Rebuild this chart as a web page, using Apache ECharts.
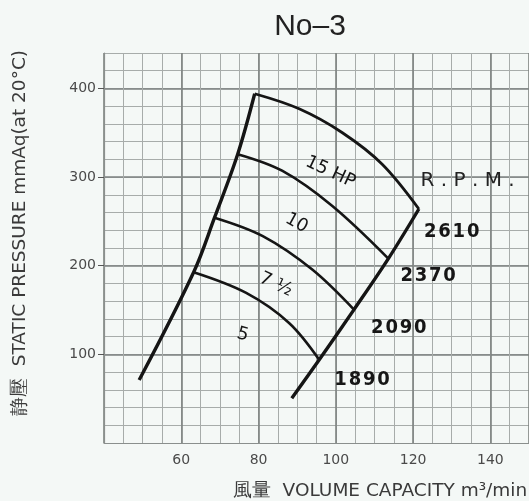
<!DOCTYPE html>
<html>
<head>
<meta charset="utf-8">
<script src="https://cdn.jsdelivr.net/npm/echarts@6/dist/echarts.min.js"></script>
<style>
html,body{margin:0;padding:0;background:#f4f8f6;}
#chart{width:529px;height:501px;}
</style>
</head>
<body>
<div id="chart"></div>
<script>
// ---- data ----
const xTicks = [60, 80, 100, 120, 140];
const yTicks = [100, 200, 300, 400];

// constant-RPM curves (volume m3/min, static pressure mmAq)
const rpm2610X = [79, 90.5, 101.7, 112, 121.5];
const rpm2610Y = [394, 377, 350, 314.5, 264];
const rpm2370X = [74.6, 86.2, 99.1, 113.6];
const rpm2370Y = [325.8, 306.9, 267.3, 208];
const rpm2090X = [68.6, 81.1, 93.9, 104.7];
const rpm2090Y = [254.2, 233.4, 195.7, 150.5];
const rpm1890X = [63.2, 76.8, 87.9, 95.7];
const rpm1890Y = [192.6, 169.3, 135.4, 93.9];

// boundary lines
const leftLineX = [49.1, 63.2, 68.6, 74.6, 79];
const leftLineY = [71, 192.6, 254.2, 325.8, 394];
const rightLineX = [88.6, 95.7, 104.7, 113.6, 121.5];
const rightLineY = [50.5, 93.9, 150.5, 208, 264];

// annotations
const hpLabels = ['15 HP', '10', '7 \u00BD', '5'];
const hpLabelX = [98.6, 89.8, 84.5, 75.9];
const hpLabelY = [305.5, 248, 178.7, 122.2];
const rpmLabels = ['2610', '2370', '2090', '1890'];
const rpmLabelX = [130, 123.9, 116.3, 106.8];
const rpmLabelY = [237.9, 188.1, 130.1, 71.3];
const rpmTitle = 'R . P . M .';
const rpmTitleX = 134.1;
const rpmTitleY = 295.6;

const titleText = 'No\u20133';
const xName = '風量  VOLUME CAPACITY m\u00B3/min';
const yName = '静壓  STATIC PRESSURE mmAq(at 20\u00B0C)';

// ---- build ----
const zip = (xs, ys) => xs.map((x, i) => [x, ys[i]]);
const ink = '#151515';
const hpRot = [-25, -29, -25, -15];

function curve(xs, ys, w) {
  return {
    type: 'line', xAxisIndex: 1, yAxisIndex: 1,
    data: zip(xs, ys), smooth: 0.35, symbol: 'none', silent: true,
    lineStyle: { color: ink, width: w }
  };
}

const baseLabel = { textBorderWidth: 0, textShadowBlur: 0, opacity: 1, color: '#161616' };
const labelData = [];
hpLabels.forEach((t, i) => labelData.push({
  value: [hpLabelX[i], hpLabelY[i]],
  label: Object.assign({}, baseLabel, { formatter: t, rotate: hpRot[i], fontSize: 18, fontFamily: 'DejaVu Sans' })
}));
rpmLabels.forEach((t, i) => labelData.push({
  value: [rpmLabelX[i], rpmLabelY[i]],
  label: Object.assign({}, baseLabel, { formatter: t.split('').join('\u200A'), fontSize: 20, fontWeight: 'bold', fontFamily: 'DejaVu Sans Condensed' })
}));
labelData.push({
  value: [rpmTitleX, rpmTitleY],
  label: Object.assign({}, baseLabel, { formatter: rpmTitle, fontSize: 20, fontFamily: 'DejaVu Sans', color: '#222' })
});

const minorLine = { show: true, lineStyle: { color: '#a7acaa', width: 1 } };
const majorLine = { show: true, lineStyle: { color: '#7d8280', width: 1.6 } };

const chart = echarts.init(document.getElementById('chart'), null, { renderer: 'canvas' });
chart.setOption({
  backgroundColor: '#f4f8f6',
  animation: false,
  grid: { left: 104, right: -2, top: 53, bottom: 58, containLabel: false },
  xAxis: [
    { type: 'value', min: 40, max: 150, interval: 5, position: 'bottom',
      axisLine: { show: false }, axisTick: { show: false }, axisLabel: { show: false },
      splitLine: minorLine },
    { type: 'value', min: 40, max: 150, interval: 20, position: 'bottom',
      axisLine: { show: true, lineStyle: { color: '#8a8f8d', width: 1.2 } },
      axisTick: { show: false },
      axisLabel: { show: true, customValues: xTicks, margin: 10, fontSize: 14, fontFamily: 'DejaVu Sans', color: '#4a4a4a' },
      splitLine: majorLine }
  ],
  yAxis: [
    { type: 'value', min: 0, max: 440, interval: 20, position: 'left',
      axisLine: { show: false }, axisTick: { show: false }, axisLabel: { show: false },
      splitLine: minorLine },
    { type: 'value', min: 0, max: 440, interval: 100, position: 'left',
      axisLine: { show: true, lineStyle: { color: '#8a8f8d', width: 1.2 } },
      axisTick: { show: true, customValues: yTicks, length: 6, inside: false, lineStyle: { color: '#555' } },
      axisLabel: { show: true, customValues: yTicks, margin: 8, fontSize: 14, fontFamily: 'DejaVu Sans', color: '#4a4a4a' },
      splitLine: majorLine }
  ],
  series: [
    curve(leftLineX, leftLineY, 3.4),
    curve(rightLineX, rightLineY, 3.4),
    curve(rpm2610X, rpm2610Y, 2.8),
    curve(rpm2370X, rpm2370Y, 2.6),
    curve(rpm2090X, rpm2090Y, 2.6),
    curve(rpm1890X, rpm1890Y, 2.6),
    {
      type: 'scatter', xAxisIndex: 1, yAxisIndex: 1, symbolSize: 1, silent: true,
      itemStyle: { color: 'rgba(0,0,0,0)' },
      data: labelData,
      label: { show: true, position: 'inside', color: '#161616', textBorderWidth: 0 }
    }
  ],
  graphic: [
    { type: 'text', x: 310, y: 27,
      style: { text: titleText, font: '30px "Liberation Sans"', fill: '#222', align: 'center', verticalAlign: 'middle', textAlign: 'center', textVerticalAlign: 'middle' } },
    { type: 'text', x: 380, y: 491,
      style: { text: xName, font: '18.5px "DejaVu Sans"', fill: '#3a3a3a', align: 'center', verticalAlign: 'middle', textAlign: 'center', textVerticalAlign: 'middle' } },
    { type: 'text', x: 20, y: 233, rotation: Math.PI / 2,
      style: { text: yName, font: '18.5px "DejaVu Sans"', fill: '#3a3a3a', align: 'center', verticalAlign: 'middle', textAlign: 'center', textVerticalAlign: 'middle' } }
  ]
});
</script>
</body>
</html>
